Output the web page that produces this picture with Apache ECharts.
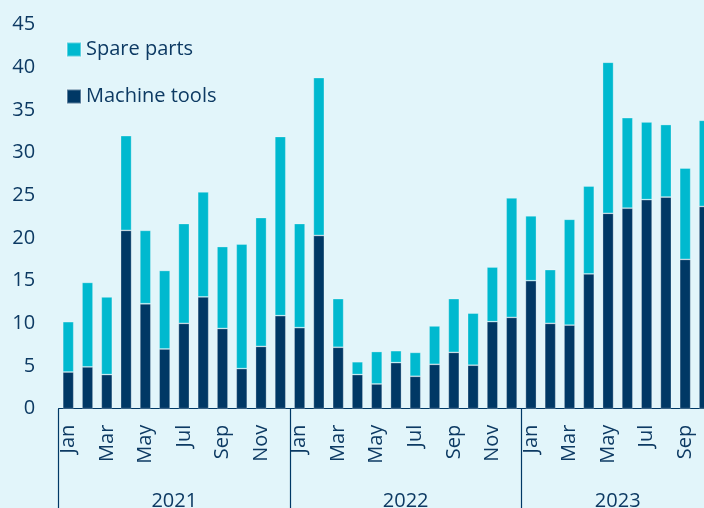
<!DOCTYPE html>
<html>
<head>
<meta charset="utf-8">
<script src="https://cdn.jsdelivr.net/npm/echarts@6/dist/echarts.min.js"></script>
<style>
html,body{margin:0;padding:0;background:#e2f5fa;}
#chart{width:704px;height:508px;}
</style>
</head>
<body>
<div id="chart"></div>
<script>
var months = ['Jan','Feb','Mar','Apr','May','Jun','Jul','Aug','Sep','Oct','Nov','Dec',
              'Jan','Feb','Mar','Apr','May','Jun','Jul','Aug','Sep','Oct','Nov','Dec',
              'Jan','Feb','Mar','Apr','May','Jun','Jul','Aug','Sep','Oct'];
var years = ['2021','2022','2023'];
var yearStarts = [0, 12, 24];
var yearCenters = [6, 18, 29];
var machineTools = [4.3, 4.9, 4.0, 20.9, 12.3, 7.0, 10.0, 13.1, 9.4, 4.7, 7.3, 10.9,
                    9.5, 20.3, 7.2, 4.0, 2.9, 5.4, 3.8, 5.2, 6.6, 5.1, 10.2, 10.7,
                    15.0, 10.0, 9.8, 15.8, 22.9, 23.5, 24.5, 24.8, 17.5, 23.7];
var spareParts = [5.9, 9.9, 9.1, 11.1, 8.6, 9.2, 11.7, 12.3, 9.6, 14.6, 15.1, 21.0,
                  12.2, 18.5, 5.7, 1.5, 3.8, 1.4, 2.8, 4.5, 6.3, 6.1, 6.4, 14.0,
                  7.6, 6.3, 12.4, 10.3, 17.7, 10.6, 9.1, 8.5, 10.7, 10.1];

var navy = '#003865';
var cyan = '#00b9cf';
var textColor = '#0d3a63';
var font = 'Open Sans';

var chart = echarts.init(document.getElementById('chart'), null, {renderer: 'canvas'});
chart.setOption({
  backgroundColor: '#e2f5fa',
  animation: false,
  textStyle: {fontFamily: font},
  legend: {
    data: ['Spare parts', 'Machine tools'],
    orient: 'vertical',
    left: 66,
    top: 39.5,
    padding: 0,
    itemWidth: 14,
    itemHeight: 14,
    itemGap: 27,
    icon: 'rect',
    textStyle: {color: textColor, fontSize: 20, fontFamily: font}
  },
  grid: {left: 58.6, width: 655.5, top: 24.7, height: 384, containLabel: false, outerBoundsMode: 'none'},
  xAxis: [{
    type: 'category',
    data: months,
    position: 'bottom',
    axisLine: {show: true, lineStyle: {color: navy, width: 1.2}},
    axisTick: {show: false},
    axisLabel: {interval: 1, rotate: 90, margin: 16, color: textColor, fontSize: 20, fontFamily: font}
  }, {
    type: 'value',
    min: 0,
    max: months.length,
    position: 'bottom',
    axisLine: {show: false},
    splitLine: {show: false},
    axisTick: {show: true, customValues: yearStarts, length: 100, lineStyle: {color: navy, width: 1.2}},
    axisLabel: {
      customValues: yearCenters,
      margin: 83,
      color: textColor, fontSize: 20, fontFamily: font,
      formatter: function (v) { return years[yearCenters.indexOf(v)] || ''; }
    }
  }],
  yAxis: {
    type: 'value',
    min: 0, max: 45, interval: 5,
    axisLine: {show: false},
    axisTick: {show: false},
    splitLine: {show: false},
    axisLabel: {margin: 23.5, color: textColor, fontSize: 20, fontFamily: font}
  },
  series: [{
    name: 'Machine tools',
    type: 'bar',
    stack: 'total',
    xAxisIndex: 0,
    barWidth: 11,
    data: machineTools,
    itemStyle: {color: navy, borderColor: 'rgba(255,255,255,0.35)', borderWidth: 0.8}
  }, {
    name: 'Spare parts',
    type: 'bar',
    stack: 'total',
    xAxisIndex: 0,
    barWidth: 11,
    data: spareParts,
    itemStyle: {color: cyan, borderColor: 'rgba(255,255,255,0.35)', borderWidth: 0.8}
  }]
});
</script>
</body>
</html>
